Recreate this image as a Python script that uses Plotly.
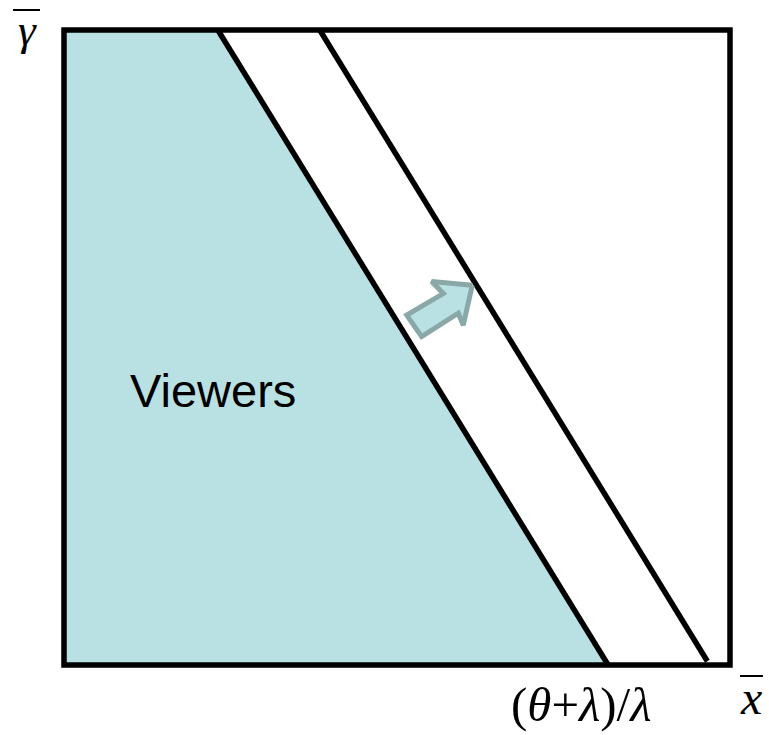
import plotly.graph_objects as go

# Axis extent (normalised units)
x_range = [0.0, 1.0]
y_range = [0.0, 1.0]

# Viewer boundary: x-intercepts at the top (y=1) and bottom (y=0)
boundary_top_x = 0.231
boundary_bottom_x = 0.817

# Shifted boundary after the increase (parallel line)
shifted_top = [0.384, 1.0]
shifted_end = [0.966, 0.006]

# Block arrow pointing towards the shifted boundary
arrow_x = [0.613, 0.552, 0.5695, 0.5146, 0.537, 0.592, 0.5995, 0.613]
arrow_y = [0.598, 0.604, 0.585, 0.551, 0.517, 0.554, 0.535, 0.598]

# Labels
region_label = "Viewers"
x_axis_label = "<i>x</i>"
y_axis_label = "<i>γ</i>"
intercept_label = "(<i>θ</i>+<i>λ</i>)/<i>λ</i>"

FILL = "#B9E0E2"
ARROW_EDGE = "#8AA8A8"
SERIF = "Liberation Serif, Times New Roman"

# plot area in pixels: x 64..730, y 30..665
def px(x):
    return (x - 64) / 666

def py(y):
    return (665 - y) / 635

fig = go.Figure()

# Shaded viewer region (left of the boundary line)
fig.add_trace(go.Scatter(
    x=[x_range[0], x_range[0], boundary_top_x, boundary_bottom_x, x_range[0]],
    y=[y_range[0], y_range[1], y_range[1], y_range[0], y_range[0]],
    fill="toself", fillcolor=FILL, mode="none", hoverinfo="skip",
))

# Boundary line
fig.add_trace(go.Scatter(
    x=[boundary_top_x, boundary_bottom_x], y=[y_range[1], y_range[0]],
    mode="lines", line=dict(color="black", width=5.5), hoverinfo="skip",
))

# Shifted boundary line
fig.add_trace(go.Scatter(
    x=[shifted_top[0], shifted_end[0]], y=[shifted_top[1], shifted_end[1]],
    mode="lines", line=dict(color="black", width=5.5), hoverinfo="skip",
))

# Arrow
fig.add_trace(go.Scatter(
    x=arrow_x, y=arrow_y, fill="toself", fillcolor=FILL, mode="lines",
    line=dict(color=ARROW_EDGE, width=5), hoverinfo="skip",
))

# Frame (paper-referenced so the stroke is not clipped)
fig.add_shape(type="rect", x0=0, x1=1, y0=0, y1=1,
              xref="paper", yref="paper", line=dict(color="black", width=5.5), layer="above")

# Overbars for the axis symbols
fig.add_shape(type="line", xref="paper", yref="paper",
              x0=px(13), x1=px(40), y0=py(10), y1=py(10),
              line=dict(color="black", width=2))
fig.add_shape(type="line", xref="paper", yref="paper",
              x0=px(740), x1=px(763), y0=py(676), y1=py(676),
              line=dict(color="black", width=2))

def label(x, y, text, family, size):
    fig.add_annotation(x=x, y=y, xref="paper", yref="paper", text=text,
                       xanchor="center", yanchor="middle", showarrow=False,
                       font=dict(family=family, size=size, color="black"))

label(px(213), py(390), region_label, "Liberation Sans, Arial", 47)
label(px(581), py(704), intercept_label, SERIF, 49)
label(px(751), py(697), x_axis_label, SERIF, 48)
label(px(27), py(30), y_axis_label, SERIF, 45)

fig.update_xaxes(range=x_range, visible=False, fixedrange=True)
fig.update_yaxes(range=y_range, visible=False, fixedrange=True)
fig.update_layout(
    width=769, height=735,
    margin=dict(l=64, r=39, t=30, b=70),
    paper_bgcolor="white", plot_bgcolor="white",
    showlegend=False,
)

fig.write_html("out.html")
